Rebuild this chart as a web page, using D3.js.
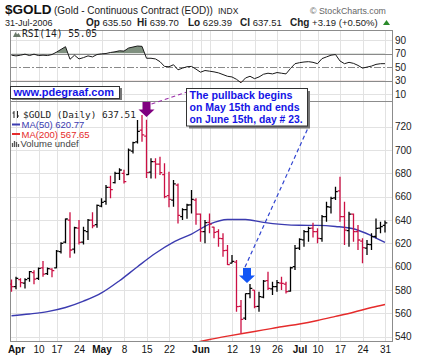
<!DOCTYPE html>
<html><head><meta charset="utf-8">
<script src="https://cdn.jsdelivr.net/npm/d3@7"></script>
<style>
body{margin:0;background:#fff}
svg{display:block}
text{font-family:"Liberation Sans",Arial,sans-serif}
.mono{font-family:"DejaVu Sans Mono",monospace}
</style>
</head><body>
<svg id="c" width="425" height="356"></svg>
<script>
// ---------------- DATA ----------------
const dates = ["03-31","04-03","04-04","04-05","04-06","04-07","04-10","04-11","04-12","04-13",
"04-17","04-18","04-19","04-20","04-21","04-24","04-25","04-26","04-27","04-28",
"05-01","05-02","05-03","05-04","05-05","05-08","05-09","05-10","05-11","05-12",
"05-15","05-16","05-17","05-18","05-19","05-22","05-23","05-24","05-25","05-26",
"05-30","05-31","06-01","06-02","06-05","06-06","06-07","06-08","06-09","06-12",
"06-13","06-14","06-15","06-16","06-19","06-20","06-21","06-22","06-23","06-26",
"06-27","06-28","06-29","06-30","07-03","07-05","07-06","07-07","07-10","07-11",
"07-12","07-13","07-14","07-17","07-18","07-19","07-20","07-21","07-24","07-25",
"07-26","07-27","07-28","07-31"];
const open = [585,583,589,586,590,595,590,599,594,598,
599,613,621,640,615,633,621,630,640,636,
652,656,668,672,680,680,679,699,707,717,
712,681,690,688,679,661,657,670,643,649,
653,657,645,630,638,634,630,624,614,603,
604,566,556,577,580,566,574,588,581,583,
586,585,579,600,616,623,630,633,630,624,
643,651,659,665,643,631,645,630,622,616,
619,626,633,635.5];
const high = [589,591.4,590,590,596.3,597,599.4,604.9,599.4,598.6,
614.3,620.9,641.4,646.6,634.3,640,634.3,640.9,646.6,653.4,
658.6,670,678,681.4,684.3,683,701.4,707.1,725.7,730,
726,692.9,693,694.3,688.6,681.4,674.3,671.4,650,654,
665.7,658.6,645.7,640,645.7,634.3,632,628.6,618.6,610,
605.7,571.4,577.1,585.1,580,578.6,588.6,595.7,587.1,588.6,
591.4,587.1,600,618.6,624.3,631.4,634.3,637.7,632.9,644.3,
655.7,660,668.6,677.1,655.7,647.1,645.7,635.7,624.3,622.9,
628.6,641.4,638.6,639.7];
const low = [578.6,580.6,582.3,581.4,587.1,585,588.6,591.4,592.9,590.9,
598.6,611.4,620,607.7,611.4,619,619,622.9,632.9,633.4,
650.9,653,658.6,671.4,674.3,671.4,678.6,697.1,705.7,707.1,
676,675.7,675.7,678.6,658.6,651,651.4,637.1,640,641,
645.7,636,621.4,620,628.6,624.3,617,608.6,601.4,602.9,
561.4,542.9,554.3,572.9,564.3,561.4,572.9,580,575.7,578.6,
580,577.1,578.6,597.1,614.3,617.1,621.4,625.1,620,621.4,
638.6,645.7,657.1,638.6,618.6,617.1,621.4,614.3,602.9,610,
614.3,624.3,628.6,629.39];
const close = [582.9,590,586.3,589,595.7,589.4,598.6,593.7,598.3,596.6,
613.4,620,640.9,614.3,633.4,620.9,630.9,640,635.1,652.6,
655.1,668,666,680,682.9,672.9,700,706.3,716,713,
680.6,690,688,680.6,660,657.7,671,644,649,652.9,
657.7,645,630,637.7,636.5,629.4,624.3,613.7,601.8,604.6,
565.7,554.9,577,581.4,565.7,574.3,587.7,581.4,582.9,586.3,
585.7,578.6,599.1,615.7,623.4,630,632.9,630,624.3,642.9,
651.4,658.6,664.3,642.9,631.4,645.1,630,622.9,616.3,619.1,
625.7,632.9,634.32,637.51];
const priorClose = 585.5;

const rsi14 = [67.5,66.5,67.5,69,67,69,67,67.5,67,68.5,
72,76,80,61.5,67.5,62,64,66.5,65,68.5,
69.5,70,71.5,72.5,74,73.5,78,79.5,81,80.5,
63,63,62,58,51,50.5,53.5,46,48.5,50.5,
51,47,42.5,45,44,43,41.5,39,36.5,35.5,
32,27,34,36.5,33,35.5,39.5,41,40,42,
41,40,48,55,56.5,57.5,58,57,55,62.5,
65,67.5,68.5,59,55,57,55.5,52.5,48.5,50,
51.5,54,55,55.05];

const ma50Dates = ["03-31","04-06","04-12","04-19","04-25","05-01","05-05","05-11","05-17","05-23","05-30",
"06-05","06-09","06-15","06-21","06-27","07-03","07-10","07-14","07-20","07-26","07-31"];
const ma50Vals = [558,559.5,561.5,565,570.5,577.5,588,600,611.5,621,628,
636.5,640.5,640.5,638,636.3,635.5,635.4,634.5,632.5,626.5,620.77];
const ma200Dates = ["05-30","06-05","06-09","06-15","06-21","06-27","07-03","07-10","07-14","07-20","07-26","07-31"];
const ma200Vals = [534.3,537.6,540.5,543.2,545.8,548.5,550.9,553.9,557.4,561,565,567.65];

const tickDates = ["04-03","04-10","04-17","04-24","05-01","05-08","05-15","05-22","06-01","06-12","06-19","06-26","07-03","07-10","07-17","07-24","07-31"];
const tickLabels = ["Apr","10","17","24","May","8","15","22","Jun","12","19","26","Jul","10","17","24","31"];
const extraGridDates = ["05-30","06-05"];
const priceTicks = [540,560,580,600,620,640,660,680,700,720];
const rsiTicks = [10,30,50,70,90];

// ---------------- LAYOUT ----------------
const svg = d3.select("#c");
const L = 10, R = 392;
const rsiTop = 30, rsiBot = 101, pTop = 101, pBot = 341;

const x = d3.scalePoint().domain(dates).range([11.5, 385]);
const yP = d3.scaleLinear().domain([540, 720]).range([336.7, 126.7]);
const yR = d3.scaleLinear().domain([30, 70]).range([80.7, 53.5]);

const defs = svg.append("defs");
defs.append("clipPath").attr("id","pclip").append("rect").attr("x",L).attr("y",pTop).attr("width",R-L).attr("height",pBot-pTop);
defs.append("clipPath").attr("id","rclip").append("rect").attr("x",L).attr("y",rsiTop).attr("width",R-L).attr("height",rsiBot-rsiTop);
defs.append("clipPath").attr("id","above70").append("rect").attr("x",L).attr("y",rsiTop).attr("width",R-L).attr("height",yR(70)-rsiTop);
defs.append("clipPath").attr("id","below30").append("rect").attr("x",L).attr("y",yR(30)).attr("width",R-L).attr("height",rsiBot-yR(30));

// gridlines
const grid = svg.append("g").attr("stroke","#e2e2e2").attr("stroke-width",1);
tickDates.concat(extraGridDates).forEach(d=>{
  const xx = Math.round(x(d))+0.5;
  grid.append("line").attr("x1",xx).attr("x2",xx).attr("y1",rsiTop).attr("y2",pBot);
});
priceTicks.forEach(v=>{
  const yy = Math.round(yP(v))+0.5;
  grid.append("line").attr("x1",L).attr("x2",R).attr("y1",yy).attr("y2",yy);
});
[10,90].forEach(v=>{
  const yy = Math.round(yR(v))+0.5;
  grid.append("line").attr("x1",L).attr("x2",R).attr("y1",yy).attr("y2",yy);
});

// RSI reference lines
[30,70].forEach(v=>{
  const yy = Math.round(yR(v))+0.5;
  svg.append("line").attr("x1",L).attr("x2",R).attr("y1",yy).attr("y2",yy).attr("stroke","#8a8a8a").attr("stroke-width",1.2);
});
svg.append("line").attr("x1",L).attr("x2",R).attr("y1",Math.round(yR(50))+0.5).attr("y2",Math.round(yR(50))+0.5)
  .attr("stroke","#8a8a8a").attr("stroke-dasharray","7,2,2,2");

// RSI fills
const rsiPts = dates.map((d,i)=>[x(d), rsi14[i]]);
svg.append("path").attr("clip-path","url(#above70)")
  .attr("d", d3.area().x(p=>p[0]).y0(yR(70)).y1(p=>yR(p[1]))(rsiPts))
  .attr("fill","#7f907f");
svg.append("path").attr("clip-path","url(#below30)")
  .attr("d", d3.area().x(p=>p[0]).y0(yR(30)).y1(p=>yR(p[1]))(rsiPts))
  .attr("fill","#b88a80");
svg.append("path").attr("clip-path","url(#rclip)")
  .attr("d", d3.line().x(p=>p[0]).y(p=>yR(p[1]))(rsiPts))
  .attr("fill","none").attr("stroke","#1a1a1a").attr("stroke-width",1);

// panel borders
svg.append("rect").attr("x",L+0.5).attr("y",rsiTop+0.5).attr("width",R-L).attr("height",rsiBot-rsiTop)
  .attr("fill","none").attr("stroke","#8c8c8c");
svg.append("rect").attr("x",L+0.5).attr("y",pTop+0.5).attr("width",R-L).attr("height",pBot-pTop)
  .attr("fill","none").attr("stroke","#8c8c8c");

// moving averages
const pg = svg.append("g").attr("clip-path","url(#pclip)");
pg.append("path").datum(ma50Dates.map((d,i)=>[d,ma50Vals[i]]))
  .attr("d", d3.line().x(p=>x(p[0])).y(p=>yP(p[1])).curve(d3.curveMonotoneX))
  .attr("fill","none").attr("stroke","#3b3bb0").attr("stroke-width",1.4);
pg.append("path").datum(ma200Dates.map((d,i)=>[d,ma200Vals[i]]))
  .attr("d", d3.line().x(p=>x(p[0])).y(p=>yP(p[1])).curve(d3.curveMonotoneX))
  .attr("fill","none").attr("stroke","#e52b2b").attr("stroke-width",1.4);

// OHLC bars
dates.forEach((d,i)=>{
  const prev = i===0 ? priorClose : close[i-1];
  const col = close[i] >= prev ? "#000000" : "#cc1044";
  const xx = x(d);
  pg.append("path")
    .attr("d", `M${xx},${yP(high[i])}V${yP(low[i])}M${xx-2.3},${yP(open[i])}H${xx}M${xx},${yP(close[i])}H${xx+2.3}`)
    .attr("stroke",col).attr("stroke-width",1.3).attr("fill","none");
});

// axes
const xAxis = svg.append("g").attr("transform",`translate(0,${pBot})`)
  .call(d3.axisBottom(x).tickValues(tickDates).tickFormat((d,i)=>tickLabels[i]).tickSize(0).tickPadding(5));
xAxis.select(".domain").remove();
xAxis.selectAll("text").attr("font-size","10px").attr("fill","#111")
  .attr("font-family","Liberation Sans, Arial, sans-serif")
  .attr("font-weight",(d,i)=>/^[A-Za-z]/.test(tickLabels[i])?"bold":"normal");

const yAxis = svg.append("g").attr("transform",`translate(${R},0)`)
  .call(d3.axisRight(yP).tickValues(priceTicks).tickSize(0).tickPadding(3));
yAxis.select(".domain").remove();
yAxis.selectAll("text").attr("font-size","10px").attr("fill","#222").attr("font-family","Liberation Sans, Arial, sans-serif");

const rAxis = svg.append("g").attr("transform",`translate(${R},0)`)
  .call(d3.axisRight(yR).tickValues(rsiTicks).tickSize(0).tickPadding(3));
rAxis.select(".domain").remove();
rAxis.selectAll("text").attr("font-size","10px").attr("fill","#222").attr("font-family","Liberation Sans, Arial, sans-serif");

// ---------------- ANNOTATIONS ----------------
const arrows = [{date:"05-15", tip:728.3, color:"#800080"},{date:"06-15", tip:586, color:"#1356f5"}];
function arrowPath(cx, ty){
  return `M${cx-4},${ty-15}H${cx+4}V${ty-7.5}H${cx+8}L${cx},${ty}L${cx-8},${ty-7.5}H${cx-4}Z`;
}
const a0x = x(arrows[0].date), a0y = yP(arrows[0].tip);
const a1x = x(arrows[1].date)+1.5, a1y = yP(arrows[1].tip);

// dashed connectors
svg.append("line").attr("x1",a0x+5).attr("y1",a0y-13).attr("x2",187).attr("y2",92)
  .attr("stroke","#9b2fa8").attr("stroke-width",1.2).attr("stroke-dasharray","4,3");
svg.append("line").attr("x1",a1x-2).attr("y1",a1y-16).attr("x2",308).attr("y2",128)
  .attr("stroke","#3044d0").attr("stroke-width",1.2).attr("stroke-dasharray","4,3");

svg.append("path").attr("d",arrowPath(a0x,a0y)).attr("fill",arrows[0].color);
svg.append("path").attr("d",arrowPath(a1x,a1y)).attr("fill",arrows[1].color);

// text box
svg.append("rect").attr("x",189).attr("y",91).attr("width",121).attr("height",37.5).attr("fill","#777");
svg.append("rect").attr("x",186.5).attr("y",88.5).attr("width",121).attr("height",37.5).attr("fill","#fff").attr("stroke","#333").attr("stroke-width",1);
const noteLines = ["The pullback begins","on May 15th and ends","on June 15th, day # 23."];
const noteWidths = [103,110,113];
noteLines.forEach((t,i)=>{
  svg.append("text").attr("x",189.5).attr("y",98.8+i*12.2).text(t)
    .attr("font-size","11px").attr("font-weight","bold").attr("fill","#1414e6")
    .attr("textLength",noteWidths[i]).attr("lengthAdjust","spacingAndGlyphs");
});

// www box
svg.append("rect").attr("x",12).attr("y",88).attr("width",110).attr("height",12).attr("fill","#777");
svg.append("rect").attr("x",10.5).attr("y",86.5).attr("width",109).attr("height",12).attr("fill","#fff").attr("stroke","#333");
svg.append("text").attr("x",13.5).attr("y",96).text("www.pdegraaf.com")
  .attr("font-size","11px").attr("font-weight","bold").attr("fill","#1414e6");

// ---------------- HEADER ----------------
svg.append("text").attr("x",5).attr("y",14).text("$GOLD").attr("font-size","13.5px").attr("font-weight","bold").attr("fill","#111");
svg.append("text").attr("x",54).attr("y",14).text("(Gold - Continuous Contract (EOD))").attr("font-size","10px").attr("fill","#222");
svg.append("text").attr("x",218).attr("y",14).text("INDX").attr("font-size","8.5px").attr("fill","#222");
svg.append("text").attr("x",310).attr("y",14).text("© StockCharts.com").attr("font-size","8.8px").attr("fill","#666");

svg.append("text").attr("x",5).attr("y",26).text("31-Jul-2006").attr("font-size","9px").attr("fill","#222");
const quote = [["Op","635.50",86],["Hi","639.70",137],["Lo","629.39",188],["Cl","637.51",240]];
quote.forEach(q=>{
  const t = svg.append("text").attr("x",q[2]).attr("y",26).attr("font-size","9.5px").attr("fill","#222");
  t.append("tspan").attr("font-weight","bold").attr("font-size","10px").text(q[0]);
  t.append("tspan").text(" "+q[1]);
});
const chg = svg.append("text").attr("x",290).attr("y",26).attr("font-size","9.5px").attr("fill","#222");
chg.append("tspan").attr("font-weight","bold").attr("font-size","10px").text("Chg");
chg.append("tspan").text(" +3.19 (+0.50%)");
svg.append("path").attr("d","M383,25L390,25L386.5,20Z").attr("fill","#2a8a2a");

// RSI label
svg.append("path").attr("d","M13,37L15.5,32L17,34.5L18.5,33L21,37Z").attr("fill","#6a7a6a");
svg.append("text").attr("class","mono").attr("x",22).attr("y",37).text("RSI(14) 55.05").attr("font-size","9.6px").attr("fill","#222");

// price legend
const lg = svg.append("g");
lg.append("path").attr("d","M14,111V118M12.5,113H14M17.5,111V118M17.5,116H19").attr("stroke","#222").attr("stroke-width",1);
lg.append("text").attr("class","mono").attr("x",23).attr("y",117.5).text("$GOLD (Daily) 637.51").attr("font-size","9.4px").attr("fill","#222");
lg.append("line").attr("x1",12).attr("x2",20).attr("y1",124.5).attr("y2",124.5).attr("stroke","#3b3bb0").attr("stroke-width",2);
lg.append("text").attr("x",21.5).attr("y",128).text("MA(50) 620.77").attr("font-size","9.5px").attr("fill","#3b3bb0");
lg.append("line").attr("x1",12).attr("x2",20).attr("y1",134).attr("y2",134).attr("stroke","#e52b2b").attr("stroke-width",2);
lg.append("text").attr("x",21.5).attr("y",137.5).text("MA(200) 567.65").attr("font-size","9.5px").attr("fill","#e52b2b");
lg.append("path").attr("d","M12.5,147V143M14.5,147V141M16.5,147V142M18.5,147V144").attr("stroke","#555").attr("stroke-width",1.3);
lg.append("text").attr("x",20.5).attr("y",147).text("Volume undef").attr("font-size","9.5px").attr("fill","#444");
</script>
</body></html>
